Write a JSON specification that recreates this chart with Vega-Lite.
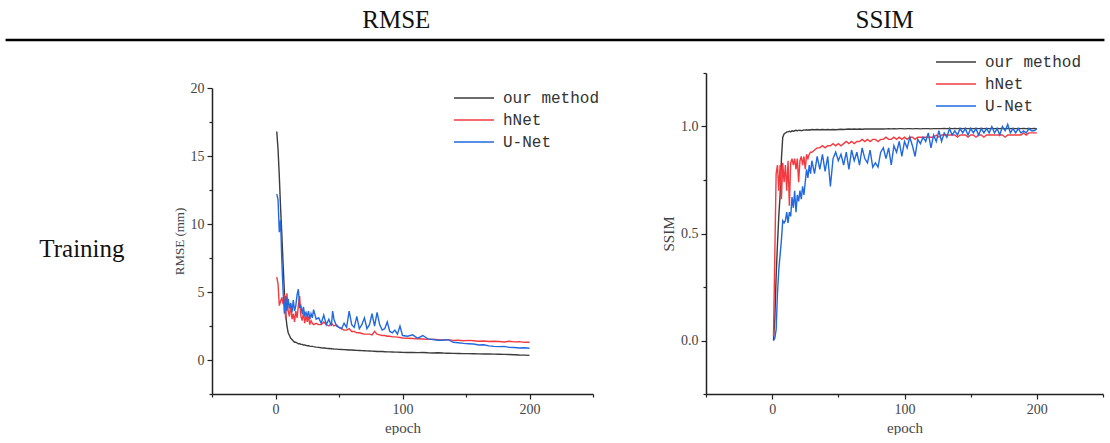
{
"$schema": "https://vega.github.io/schema/vega-lite/v6.json",
"padding": 0,
"background": "white",
"bounds": "flush",
"spacing": 33,
"config": {
  "view": {"stroke": null},
  "font": "Liberation Serif",
  "axis": {"grid": false, "domainColor": "#222", "domainWidth": 1.5, "tickColor": "#222", "tickWidth": 1.2, "tickSize": 5,
    "labelFont": "Liberation Serif", "labelFontSize": 14, "labelColor": "#444", "labelPadding": 3,
    "titleFont": "Liberation Serif", "titleFontWeight": "normal", "titleFontSize": 15, "titleColor": "#444"},
  "legend": {"labelFont": "Liberation Mono", "labelFontSize": 16, "labelColor": "#333", "symbolType": "M-2,0H2", "symbolSize": 400, "symbolStrokeWidth": 1.5, "labelOffset": 18, "rowPadding": 3, "title": null}
},
"datasets": {
"rmse": [
{"epoch":1,"our method":16.8,"hNet":6.1,"U-Net":12.2},
{"epoch":2,"our method":15.5,"hNet":5.6,"U-Net":11.8},
{"epoch":3,"our method":13.5,"hNet":4.0,"U-Net":9.4},
{"epoch":4,"our method":11.2,"hNet":4.3,"U-Net":10.3},
{"epoch":5,"our method":9.2,"hNet":4.6,"U-Net":7.2},
{"epoch":6,"our method":7.0,"hNet":4.1,"U-Net":5.0},
{"epoch":7,"our method":5.0,"hNet":4.8,"U-Net":3.4},
{"epoch":8,"our method":3.4,"hNet":3.0,"U-Net":4.7},
{"epoch":9,"our method":2.5,"hNet":4.9,"U-Net":3.6},
{"epoch":10,"our method":2.0,"hNet":3.6,"U-Net":4.5},
{"epoch":11,"our method":1.8,"hNet":3.2,"U-Net":3.8},
{"epoch":12,"our method":1.6,"hNet":4.1,"U-Net":4.2},
{"epoch":13,"our method":1.5,"hNet":3.0,"U-Net":3.5},
{"epoch":14,"our method":1.4,"hNet":3.4,"U-Net":4.4},
{"epoch":15,"our method":1.3,"hNet":2.8,"U-Net":3.6},
{"epoch":16,"our method":1.3,"hNet":3.6,"U-Net":4.0},
{"epoch":17,"our method":1.25,"hNet":3.1,"U-Net":4.8},
{"epoch":18,"our method":1.2,"hNet":4.0,"U-Net":5.2},
{"epoch":19,"our method":1.2,"hNet":4.7,"U-Net":3.9},
{"epoch":20,"our method":1.15,"hNet":3.2,"U-Net":4.0},
{"epoch":21,"our method":1.15,"hNet":2.9,"U-Net":3.4},
{"epoch":22,"our method":1.1,"hNet":3.5,"U-Net":3.9},
{"epoch":23,"our method":1.1,"hNet":2.7,"U-Net":3.3},
{"epoch":24,"our method":1.08,"hNet":3.3,"U-Net":3.5},
{"epoch":25,"our method":1.05,"hNet":2.8,"U-Net":3.2},
{"epoch":26,"our method":1.05,"hNet":3.2,"U-Net":3.6},
{"epoch":27,"our method":1.02,"hNet":2.6,"U-Net":3.0},
{"epoch":28,"our method":1.0,"hNet":2.9,"U-Net":3.4},
{"epoch":29,"our method":1.0,"hNet":2.7,"U-Net":3.1},
{"epoch":30,"our method":0.98,"hNet":2.6,"U-Net":3.7},
{"epoch":32,"our method":0.95,"hNet":2.7,"U-Net":3.0},
{"epoch":34,"our method":0.93,"hNet":2.6,"U-Net":3.1},
{"epoch":36,"our method":0.9,"hNet":2.6,"U-Net":2.7},
{"epoch":38,"our method":0.88,"hNet":2.8,"U-Net":3.3},
{"epoch":40,"our method":0.86,"hNet":2.6,"U-Net":2.6},
{"epoch":42,"our method":0.85,"hNet":2.5,"U-Net":3.0},
{"epoch":44,"our method":0.83,"hNet":2.7,"U-Net":2.5},
{"epoch":45,"our method":0.82,"hNet":2.6,"U-Net":3.6},
{"epoch":46,"our method":0.81,"hNet":2.5,"U-Net":3.0},
{"epoch":48,"our method":0.8,"hNet":2.6,"U-Net":2.5},
{"epoch":50,"our method":0.78,"hNet":2.4,"U-Net":2.4},
{"epoch":52,"our method":0.77,"hNet":2.3,"U-Net":2.3},
{"epoch":54,"our method":0.76,"hNet":2.2,"U-Net":2.7},
{"epoch":56,"our method":0.75,"hNet":2.2,"U-Net":2.4},
{"epoch":58,"our method":0.74,"hNet":2.3,"U-Net":3.6},
{"epoch":60,"our method":0.73,"hNet":2.1,"U-Net":2.6},
{"epoch":62,"our method":0.72,"hNet":2.1,"U-Net":2.4},
{"epoch":64,"our method":0.71,"hNet":2.0,"U-Net":3.2},
{"epoch":66,"our method":0.7,"hNet":2.0,"U-Net":2.3},
{"epoch":68,"our method":0.69,"hNet":1.95,"U-Net":2.6},
{"epoch":70,"our method":0.68,"hNet":1.9,"U-Net":3.1},
{"epoch":72,"our method":0.67,"hNet":1.9,"U-Net":2.3},
{"epoch":74,"our method":0.66,"hNet":1.9,"U-Net":2.6},
{"epoch":76,"our method":0.65,"hNet":1.85,"U-Net":3.4},
{"epoch":78,"our method":0.64,"hNet":2.1,"U-Net":2.5},
{"epoch":80,"our method":0.63,"hNet":1.9,"U-Net":3.5},
{"epoch":82,"our method":0.62,"hNet":1.85,"U-Net":2.6},
{"epoch":84,"our method":0.62,"hNet":1.8,"U-Net":2.2},
{"epoch":86,"our method":0.61,"hNet":1.8,"U-Net":2.3},
{"epoch":88,"our method":0.6,"hNet":1.75,"U-Net":2.8},
{"epoch":90,"our method":0.6,"hNet":1.75,"U-Net":2.1},
{"epoch":92,"our method":0.59,"hNet":1.7,"U-Net":2.0},
{"epoch":94,"our method":0.58,"hNet":1.7,"U-Net":2.2},
{"epoch":96,"our method":0.58,"hNet":1.68,"U-Net":1.9},
{"epoch":98,"our method":0.57,"hNet":1.65,"U-Net":2.5},
{"epoch":100,"our method":0.56,"hNet":1.62,"U-Net":1.8},
{"epoch":104,"our method":0.55,"hNet":1.6,"U-Net":1.75},
{"epoch":108,"our method":0.55,"hNet":1.58,"U-Net":1.85},
{"epoch":112,"our method":0.54,"hNet":1.56,"U-Net":1.6},
{"epoch":116,"our method":0.55,"hNet":1.54,"U-Net":1.8},
{"epoch":120,"our method":0.53,"hNet":1.52,"U-Net":1.55},
{"epoch":124,"our method":0.52,"hNet":1.53,"U-Net":1.5},
{"epoch":128,"our method":0.53,"hNet":1.5,"U-Net":1.45},
{"epoch":132,"our method":0.51,"hNet":1.48,"U-Net":1.45},
{"epoch":136,"our method":0.5,"hNet":1.5,"U-Net":1.5},
{"epoch":140,"our method":0.49,"hNet":1.44,"U-Net":1.3},
{"epoch":144,"our method":0.48,"hNet":1.45,"U-Net":1.27},
{"epoch":148,"our method":0.47,"hNet":1.42,"U-Net":1.22},
{"epoch":152,"our method":0.47,"hNet":1.44,"U-Net":1.2},
{"epoch":156,"our method":0.46,"hNet":1.42,"U-Net":1.18},
{"epoch":160,"our method":0.45,"hNet":1.38,"U-Net":1.1},
{"epoch":164,"our method":0.44,"hNet":1.4,"U-Net":1.12},
{"epoch":168,"our method":0.44,"hNet":1.36,"U-Net":1.04},
{"epoch":172,"our method":0.43,"hNet":1.38,"U-Net":1.0},
{"epoch":176,"our method":0.42,"hNet":1.36,"U-Net":0.98},
{"epoch":180,"our method":0.41,"hNet":1.32,"U-Net":1.0},
{"epoch":184,"our method":0.4,"hNet":1.38,"U-Net":0.93},
{"epoch":188,"our method":0.39,"hNet":1.33,"U-Net":0.92},
{"epoch":192,"our method":0.37,"hNet":1.35,"U-Net":0.88},
{"epoch":196,"our method":0.36,"hNet":1.3,"U-Net":0.9},
{"epoch":200,"our method":0.34,"hNet":1.3,"U-Net":0.86}
],
"ssim": [
{"epoch":1,"our method":0.0,"hNet":0.02,"U-Net":0.0},
{"epoch":2,"our method":0.1,"hNet":0.4,"U-Net":0.01},
{"epoch":3,"our method":0.3,"hNet":0.78,"U-Net":0.05},
{"epoch":4,"our method":0.45,"hNet":0.82,"U-Net":0.22},
{"epoch":5,"our method":0.58,"hNet":0.7,"U-Net":0.33},
{"epoch":6,"our method":0.68,"hNet":0.82,"U-Net":0.4},
{"epoch":7,"our method":0.85,"hNet":0.66,"U-Net":0.47},
{"epoch":8,"our method":0.95,"hNet":0.83,"U-Net":0.56},
{"epoch":9,"our method":0.965,"hNet":0.74,"U-Net":0.55},
{"epoch":10,"our method":0.97,"hNet":0.82,"U-Net":0.56},
{"epoch":11,"our method":0.975,"hNet":0.7,"U-Net":0.6},
{"epoch":12,"our method":0.975,"hNet":0.84,"U-Net":0.55},
{"epoch":13,"our method":0.978,"hNet":0.63,"U-Net":0.6},
{"epoch":14,"our method":0.975,"hNet":0.83,"U-Net":0.58},
{"epoch":15,"our method":0.98,"hNet":0.85,"U-Net":0.67},
{"epoch":16,"our method":0.978,"hNet":0.82,"U-Net":0.62},
{"epoch":17,"our method":0.98,"hNet":0.85,"U-Net":0.7},
{"epoch":18,"our method":0.982,"hNet":0.8,"U-Net":0.6},
{"epoch":19,"our method":0.98,"hNet":0.85,"U-Net":0.68},
{"epoch":20,"our method":0.982,"hNet":0.74,"U-Net":0.65},
{"epoch":21,"our method":0.983,"hNet":0.84,"U-Net":0.7},
{"epoch":22,"our method":0.98,"hNet":0.86,"U-Net":0.66},
{"epoch":23,"our method":0.982,"hNet":0.82,"U-Net":0.72},
{"epoch":24,"our method":0.984,"hNet":0.86,"U-Net":0.68},
{"epoch":25,"our method":0.983,"hNet":0.8,"U-Net":0.74},
{"epoch":26,"our method":0.985,"hNet":0.87,"U-Net":0.8},
{"epoch":27,"our method":0.983,"hNet":0.85,"U-Net":0.76},
{"epoch":28,"our method":0.985,"hNet":0.87,"U-Net":0.82},
{"epoch":29,"our method":0.984,"hNet":0.88,"U-Net":0.78},
{"epoch":30,"our method":0.986,"hNet":0.88,"U-Net":0.84},
{"epoch":32,"our method":0.985,"hNet":0.89,"U-Net":0.78},
{"epoch":34,"our method":0.986,"hNet":0.9,"U-Net":0.86},
{"epoch":36,"our method":0.985,"hNet":0.9,"U-Net":0.8},
{"epoch":38,"our method":0.986,"hNet":0.91,"U-Net":0.87},
{"epoch":40,"our method":0.985,"hNet":0.9,"U-Net":0.79},
{"epoch":42,"our method":0.986,"hNet":0.91,"U-Net":0.86},
{"epoch":44,"our method":0.985,"hNet":0.91,"U-Net":0.72},
{"epoch":46,"our method":0.986,"hNet":0.92,"U-Net":0.85},
{"epoch":48,"our method":0.985,"hNet":0.91,"U-Net":0.88},
{"epoch":50,"our method":0.986,"hNet":0.92,"U-Net":0.84},
{"epoch":52,"our method":0.987,"hNet":0.91,"U-Net":0.87},
{"epoch":54,"our method":0.986,"hNet":0.92,"U-Net":0.82},
{"epoch":56,"our method":0.987,"hNet":0.93,"U-Net":0.88},
{"epoch":58,"our method":0.988,"hNet":0.92,"U-Net":0.8},
{"epoch":60,"our method":0.987,"hNet":0.93,"U-Net":0.89},
{"epoch":62,"our method":0.988,"hNet":0.92,"U-Net":0.84},
{"epoch":64,"our method":0.987,"hNet":0.93,"U-Net":0.88},
{"epoch":66,"our method":0.988,"hNet":0.93,"U-Net":0.82},
{"epoch":68,"our method":0.987,"hNet":0.94,"U-Net":0.9},
{"epoch":70,"our method":0.988,"hNet":0.93,"U-Net":0.85},
{"epoch":72,"our method":0.988,"hNet":0.94,"U-Net":0.83},
{"epoch":74,"our method":0.989,"hNet":0.93,"U-Net":0.89},
{"epoch":76,"our method":0.988,"hNet":0.94,"U-Net":0.81},
{"epoch":78,"our method":0.989,"hNet":0.94,"U-Net":0.83},
{"epoch":80,"our method":0.988,"hNet":0.93,"U-Net":0.81},
{"epoch":82,"our method":0.989,"hNet":0.94,"U-Net":0.88},
{"epoch":84,"our method":0.988,"hNet":0.94,"U-Net":0.9},
{"epoch":86,"our method":0.989,"hNet":0.95,"U-Net":0.85},
{"epoch":88,"our method":0.99,"hNet":0.94,"U-Net":0.9},
{"epoch":90,"our method":0.989,"hNet":0.94,"U-Net":0.82},
{"epoch":92,"our method":0.99,"hNet":0.95,"U-Net":0.91},
{"epoch":94,"our method":0.989,"hNet":0.94,"U-Net":0.88},
{"epoch":96,"our method":0.99,"hNet":0.95,"U-Net":0.93},
{"epoch":98,"our method":0.99,"hNet":0.94,"U-Net":0.86},
{"epoch":100,"our method":0.989,"hNet":0.95,"U-Net":0.93},
{"epoch":102,"our method":0.99,"hNet":0.94,"U-Net":0.9},
{"epoch":104,"our method":0.99,"hNet":0.95,"U-Net":0.95},
{"epoch":106,"our method":0.989,"hNet":0.95,"U-Net":0.91},
{"epoch":108,"our method":0.99,"hNet":0.94,"U-Net":0.86},
{"epoch":110,"our method":0.99,"hNet":0.95,"U-Net":0.94},
{"epoch":112,"our method":0.989,"hNet":0.95,"U-Net":0.92},
{"epoch":114,"our method":0.99,"hNet":0.95,"U-Net":0.95},
{"epoch":116,"our method":0.99,"hNet":0.95,"U-Net":0.93},
{"epoch":118,"our method":0.99,"hNet":0.95,"U-Net":0.97},
{"epoch":120,"our method":0.989,"hNet":0.95,"U-Net":0.9},
{"epoch":122,"our method":0.99,"hNet":0.95,"U-Net":0.96},
{"epoch":124,"our method":0.99,"hNet":0.96,"U-Net":0.93},
{"epoch":126,"our method":0.99,"hNet":0.95,"U-Net":0.98},
{"epoch":128,"our method":0.99,"hNet":0.96,"U-Net":0.93},
{"epoch":130,"our method":0.991,"hNet":0.96,"U-Net":0.97},
{"epoch":132,"our method":0.99,"hNet":0.96,"U-Net":0.95},
{"epoch":134,"our method":0.991,"hNet":0.96,"U-Net":0.99},
{"epoch":136,"our method":0.99,"hNet":0.96,"U-Net":0.96},
{"epoch":138,"our method":0.991,"hNet":0.96,"U-Net":0.98},
{"epoch":140,"our method":0.99,"hNet":0.95,"U-Net":0.96},
{"epoch":142,"our method":0.991,"hNet":0.96,"U-Net":0.99},
{"epoch":144,"our method":0.99,"hNet":0.96,"U-Net":0.97},
{"epoch":146,"our method":0.991,"hNet":0.96,"U-Net":0.99},
{"epoch":148,"our method":0.99,"hNet":0.95,"U-Net":0.96},
{"epoch":150,"our method":0.991,"hNet":0.96,"U-Net":0.99},
{"epoch":152,"our method":0.99,"hNet":0.96,"U-Net":0.97},
{"epoch":154,"our method":0.991,"hNet":0.95,"U-Net":0.99},
{"epoch":156,"our method":0.99,"hNet":0.96,"U-Net":0.96},
{"epoch":158,"our method":0.991,"hNet":0.96,"U-Net":0.99},
{"epoch":160,"our method":0.99,"hNet":0.95,"U-Net":0.97},
{"epoch":162,"our method":0.991,"hNet":0.96,"U-Net":0.99},
{"epoch":164,"our method":0.99,"hNet":0.96,"U-Net":0.97},
{"epoch":166,"our method":0.991,"hNet":0.96,"U-Net":1.0},
{"epoch":168,"our method":0.99,"hNet":0.96,"U-Net":0.97},
{"epoch":170,"our method":0.991,"hNet":0.96,"U-Net":0.99},
{"epoch":172,"our method":0.99,"hNet":0.96,"U-Net":0.96},
{"epoch":174,"our method":0.991,"hNet":0.96,"U-Net":1.0},
{"epoch":176,"our method":0.99,"hNet":0.95,"U-Net":0.98},
{"epoch":178,"our method":0.991,"hNet":0.96,"U-Net":1.01},
{"epoch":180,"our method":0.99,"hNet":0.96,"U-Net":0.97},
{"epoch":182,"our method":0.991,"hNet":0.96,"U-Net":0.99},
{"epoch":184,"our method":0.99,"hNet":0.96,"U-Net":0.97},
{"epoch":186,"our method":0.991,"hNet":0.96,"U-Net":0.99},
{"epoch":188,"our method":0.99,"hNet":0.96,"U-Net":0.97},
{"epoch":190,"our method":0.991,"hNet":0.97,"U-Net":0.98},
{"epoch":192,"our method":0.99,"hNet":0.96,"U-Net":0.97},
{"epoch":194,"our method":0.991,"hNet":0.97,"U-Net":0.99},
{"epoch":196,"our method":0.99,"hNet":0.97,"U-Net":0.98},
{"epoch":198,"our method":0.991,"hNet":0.97,"U-Net":0.98},
{"epoch":200,"our method":0.99,"hNet":0.97,"U-Net":0.99}
]
},
"vconcat": [
  {
    "width": 1110, "height": 40,
    "layer": [
      {
        "data": {"values": [{"x": 0.005, "x2": 0.995, "y": 0}]},
        "mark": {"type": "rule", "strokeWidth": 2.5, "color": "#000"},
        "encoding": {
          "x": {"field": "x", "type": "quantitative", "scale": {"domain": [0, 1]}, "axis": null},
          "x2": {"field": "x2"},
          "y": {"field": "y", "type": "quantitative", "scale": {"domain": [0, 1]}, "axis": null}
        }
      },
      {
        "data": {"values": [{"t": "RMSE", "x": 0.357, "y": 0.29}, {"t": "SSIM", "x": 0.797, "y": 0.29}]},
        "mark": {"type": "text", "fontSize": 25, "font": "Liberation Serif", "baseline": "alphabetic", "align": "center", "color": "#111"},
        "encoding": {
          "x": {"field": "x", "type": "quantitative", "scale": {"domain": [0, 1]}, "axis": null},
          "y": {"field": "y", "type": "quantitative", "scale": {"domain": [0, 1]}, "axis": null},
          "text": {"field": "t"}
        }
      }
    ]
  },
  {
    "bounds": "flush",
    "spacing": 113,
    "resolve": {"scale": {"color": "independent"}, "legend": {"color": "independent"}},
    "hconcat": [
      {
        "width": 99, "height": 321,
        "data": {"values": [{"t": "Training", "x": 0.828, "y": 0.427}]},
        "mark": {"type": "text", "fontSize": 25, "font": "Liberation Serif", "baseline": "alphabetic", "align": "center", "color": "#111"},
        "encoding": {
          "x": {"field": "x", "type": "quantitative", "scale": {"domain": [0, 1]}, "axis": null},
          "y": {"field": "y", "type": "quantitative", "scale": {"domain": [0, 1]}, "axis": null},
          "text": {"field": "t"}
        }
      },
      {
        "width": 381, "height": 321,
        "data": {"name": "rmse"},
        "transform": [{"fold": ["our method", "hNet", "U-Net"], "as": ["series", "value"]}],
        "mark": {"type": "line", "strokeWidth": 1.4},
        "encoding": {
          "x": {"field": "epoch", "type": "quantitative", "scale": {"domain": [-50, 250], "nice": false, "zero": false},
                "axis": {"values": [-50, 0, 50, 100, 150, 200, 250], "title": "epoch",
                         "labelExpr": "datum.value % 100 == 0 ? datum.label : ''",
                         "tickSize": {"condition": {"test": "datum.value % 100 != 0", "value": 3}, "value": 5}}},
          "y": {"field": "value", "type": "quantitative", "scale": {"domain": [-2.5, 20], "range": [321, 15], "nice": false, "zero": false},
                "axis": {"values": [-2.5, 0, 2.5, 5, 7.5, 10, 12.5, 15, 17.5, 20], "title": "RMSE (mm)", "titleFontSize": 13,
                         "labelExpr": "datum.value % 5 == 0 ? datum.label : ''",
                         "tickSize": {"condition": {"test": "datum.value % 5 != 0", "value": 3}, "value": 5}}},
          "color": {"field": "series", "type": "nominal",
                    "scale": {"domain": ["our method", "hNet", "U-Net"], "range": ["#3c3c3c", "#f23b41", "#2269df"]},
                    "legend": {"orient": "none", "legendX": 251, "legendY": 14}}
        }
      },
      {
        "width": 397, "height": 321,
        "data": {"name": "ssim"},
        "transform": [{"fold": ["our method", "hNet", "U-Net"], "as": ["series", "value"]}],
        "mark": {"type": "line", "strokeWidth": 1.4},
        "encoding": {
          "x": {"field": "epoch", "type": "quantitative", "scale": {"domain": [-50, 250], "nice": false, "zero": false},
                "axis": {"values": [-50, 0, 50, 100, 150, 200, 250], "title": "epoch",
                         "labelExpr": "datum.value % 100 == 0 ? datum.label : ''",
                         "tickSize": {"condition": {"test": "datum.value % 100 != 0", "value": 3}, "value": 5}}},
          "y": {"field": "value", "type": "quantitative", "scale": {"domain": [-0.25, 1.25], "nice": false, "zero": false},
                "axis": {"values": [-0.25, 0, 0.25, 0.5, 0.75, 1, 1.25], "title": "SSIM",
                         "labelExpr": "abs(datum.value * 2 - round(datum.value * 2)) < 0.001 ? format(datum.value, '.1f') : ''",
                         "tickSize": {"condition": {"test": "abs(datum.value * 2 - round(datum.value * 2)) > 0.001", "value": 3}, "value": 5}}},
          "color": {"field": "series", "type": "nominal",
                    "scale": {"domain": ["our method", "hNet", "U-Net"], "range": ["#3c3c3c", "#f23b41", "#2269df"]},
                    "legend": {"orient": "none", "legendX": 239, "legendY": -22}}
        }
      }
    ]
  }
]
}
